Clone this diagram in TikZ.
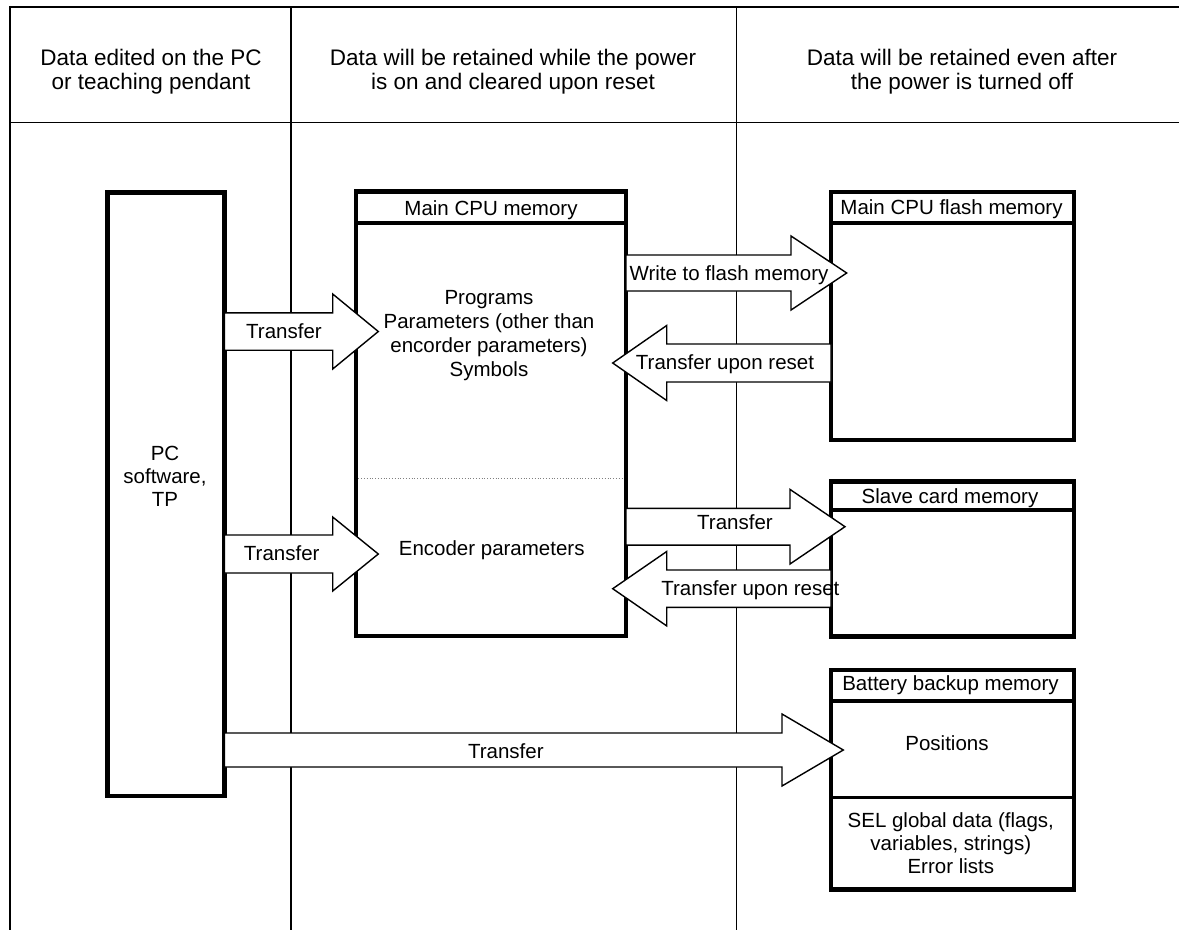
\documentclass[tikz,border=0pt]{standalone}
\usepackage{fontspec}
\setmainfont{Liberation Sans}
\usetikzlibrary{calc}
\newcommand\barrow[6]{\draw[blockarrow] (#1,#4-#5) -- (#2,#4-#5) -- (#2,#4-#6) -- (#3,#4) -- (#2,#4+#6) -- (#2,#4+#5) -- (#1,#4+#5) -- cycle;}
\begin{document}
\begin{tikzpicture}[x=1pt,y=-1pt,
  membox/.style={draw, line width=4.5pt, fill=white, inner sep=0pt, outer sep=0pt},
  sepline/.style={line width=4pt},
  blockarrow/.style={draw, line width=1.4pt, fill=white, line join=miter},
  lbl/.style={inner sep=0pt, font=\fontsize{20.5}{24}\selectfont, align=center},
  lbltight/.style={inner sep=0pt, font=\fontsize{20.5}{22.8}\selectfont, align=center},
  hdr/.style={inner sep=0pt, font=\fontsize{22.5}{24.3}\selectfont, align=center}]
\useasboundingbox (0,0) rectangle (1179,930);
% frame
\draw[line width=2.5pt] (9,7) -- (1179,7);
\draw[line width=2pt] (9.5,5.75) -- (9.5,930);
\draw[line width=1.5pt] (9,122.7) -- (1179,122.7);
\draw[line width=1.2pt] (291,7) -- (291,930);
\draw[line width=1.2pt] (736.8,7) -- (736.8,930);
% headers
\node[hdr] (h1) at (151,72) {Data edited on the PC\\or teaching pendant};
\node[hdr] (h2) at (513,72) {Data will be retained while the power\\is on and cleared upon reset};
\node[hdr] (h3) at (962,72) {Data will be retained even after\\the power is turned off};
% boxes
\node[membox, minimum width=116.6pt, minimum height=603.5pt] (pc) at (166,494.25) {};
\node[membox, minimum width=270pt, minimum height=444.5pt] (main) at (491,413.75) {};
\node[membox, minimum width=243pt, minimum height=248pt] (flash) at (952.5,316) {};
\node[membox, minimum width=243pt, minimum height=155pt] (slave) at (952.5,559) {};
\node[membox, minimum width=243pt, minimum height=219.5pt] (batt) at (952.5,779.75) {};
\draw[sepline] (main.west |- 0,223) -- (main.east |- 0,223);
\draw[sepline] (flash.west |- 0,223) -- (flash.east |- 0,223);
\draw[sepline] (slave.west |- 0,510) -- (slave.east |- 0,510);
\draw[sepline] (batt.west |- 0,701) -- (batt.east |- 0,701);
\draw[line width=3pt] (batt.west |- 0,797) -- (batt.east |- 0,797);
\draw[gray, dotted, line width=0.8pt] (358.3,478) -- (623.7,478);
% block arrows
\barrow{224.3}{332.7}{378.3}{331.5}{18.7}{37.5}
\barrow{224.3}{332.7}{378.3}{554}{19}{37}
\barrow{626}{791}{846.7}{273}{18}{37}
\barrow{831}{666.7}{612.7}{363}{19}{37.5}
\barrow{626}{790}{845}{526.7}{18.4}{37.3}
\barrow{831}{666.7}{612.7}{588.7}{18.7}{37.2}
\barrow{224.3}{782}{843.3}{750}{17}{36}
% arrow labels
\node[lbl, anchor=base] (t1) at (284,338.3) {Transfer};
\node[lbl, anchor=base] (t2) at (281.7,560) {Transfer};
\node[lbl, anchor=base] (t3) at (729,280) {Write to flash memory};
\node[lbl, anchor=base] (t4) at (725,369) {Transfer upon reset};
\node[lbl, anchor=base] (t5) at (735,529) {Transfer};
\node[lbl, anchor=base] (t6) at (750.4,595) {Transfer upon reset};
\node[lbl, anchor=base] (t7) at (505.8,758.3) {Transfer};
% box titles and contents
\node[lbl, anchor=base] (mt) at (491,215) {Main CPU memory};
\node[lbl, anchor=base] (ft) at (951.5,214) {Main CPU flash memory};
\node[lbl, anchor=base] (st) at (950,503.3) {Slave card memory};
\node[lbl, anchor=base] (bt) at (950.5,690) {Battery backup memory};
\node[lbl] (mc) at (489,335.7) {Programs\\Parameters (other than\\encorder parameters)\\Symbols};
\node[lbl, anchor=base] (enc) at (491.7,555) {Encoder parameters};
\node[lbl, anchor=base] (pos) at (947,750.7) {Positions};
\node[lbltight] (sel) at (950.8,843) {SEL global data (flags,\\variables, strings)\\Error lists};
\node[lbltight] (pct) at (165,476.2) {PC\\software,\\TP};
\end{tikzpicture}
\end{document}
